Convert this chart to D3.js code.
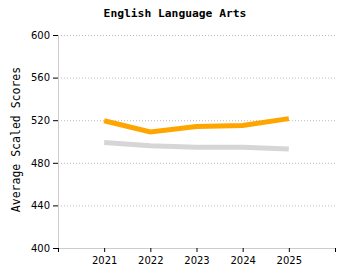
<!DOCTYPE html>
<html>
<head>
<meta charset="utf-8">
<script src="https://cdn.jsdelivr.net/npm/d3@7"></script>
<style>
  body { margin: 0; background: #fff; }
</style>
</head>
<body>
<div id="chart"></div>
<script>

var years = [2021, 2022, 2023, 2024, 2025]

var schoolScores = [519.5, 509, 514, 515, 521.5]

var stateScores = [499, 496, 494.5, 494.5, 493]

var yTicks = [400, 440, 480, 520, 560, 600]

var title = "English Language Arts"

var yLabel = "Average Scaled Scores"

var width = 350

var height = 280

var margin = { top: 35, right: 15, bottom: 32, left: 58 }

var svg = d3.select("#chart")
	.append("svg")
	.attr("width", width)
	.attr("height", height)

var x = d3.scaleLinear()
	.domain([2020, 2026])
	.range([margin.left, width - margin.right])

var y = d3.scaleLinear()
	.domain([400, 600])
	.range([height - margin.bottom, margin.top])

// grid lines
svg.append("g")
	.selectAll("line")
	.data(yTicks.slice(1))
	.join("line")
		.attr("x1", margin.left)
		.attr("x2", width - margin.right)
		.attr("y1", d => y(d) + 0.5)
		.attr("y2", d => y(d) + 0.5)
		.attr("stroke", "#bbb")
		.attr("stroke-dasharray", "1,2")

// y axis
var yAxis = svg.append("g")
	.attr("transform", `translate(${margin.left},0)`)
	.call(d3.axisLeft(y).tickValues(yTicks).tickSize(5).tickPadding(3))

yAxis.select(".domain").attr("stroke", "#ccc")
yAxis.selectAll(".tick line").attr("stroke", "#000")
yAxis.selectAll("text")
	.attr("font-family", "DejaVu Sans")
	.attr("font-size", 10)
	.attr("fill", "#000")

// x axis
var xAxis = svg.append("g")
	.attr("transform", `translate(0,${height - margin.bottom})`)
	.call(d3.axisBottom(x).tickValues([2020].concat(years, [2026])).tickFormat(d3.format("d")).tickSize(4).tickPadding(5))

xAxis.select(".domain").attr("stroke", "#ccc")
xAxis.selectAll(".tick line").attr("stroke", "#000")
xAxis.selectAll("text")
	.attr("font-family", "DejaVu Sans")
	.attr("font-size", 10)
	.attr("fill", "#000")
	.style("display", d => (d == 2020 || d == 2026) ? "none" : null)

var line = d3.line()
	.x((d, i) => x(years[i]))
	.y(d => y(d))

svg.append("path")
	.datum(stateScores)
	.attr("d", line)
	.attr("fill", "none")
	.attr("stroke", "#d6d6d6")
	.attr("stroke-width", 5)

svg.append("path")
	.datum(schoolScores)
	.attr("d", line)
	.attr("fill", "none")
	.attr("stroke", "#ffa500")
	.attr("stroke-width", 5)

svg.append("text")
	.attr("x", 175)
	.attr("y", 17)
	.attr("text-anchor", "middle")
	.attr("font-family", "DejaVu Sans Mono")
	.attr("font-weight", "bold")
	.attr("font-size", 11.3)
	.text(title)

svg.append("text")
	.attr("transform", `translate(20,${(margin.top + height - margin.bottom) / 2 - 2}) rotate(-90)`)
	.attr("text-anchor", "middle")
	.attr("font-family", "DejaVu Sans Mono")
	.attr("font-size", 11.5)
	.attr("fill", "#000")
	.text(yLabel)

</script>
</body>
</html>
